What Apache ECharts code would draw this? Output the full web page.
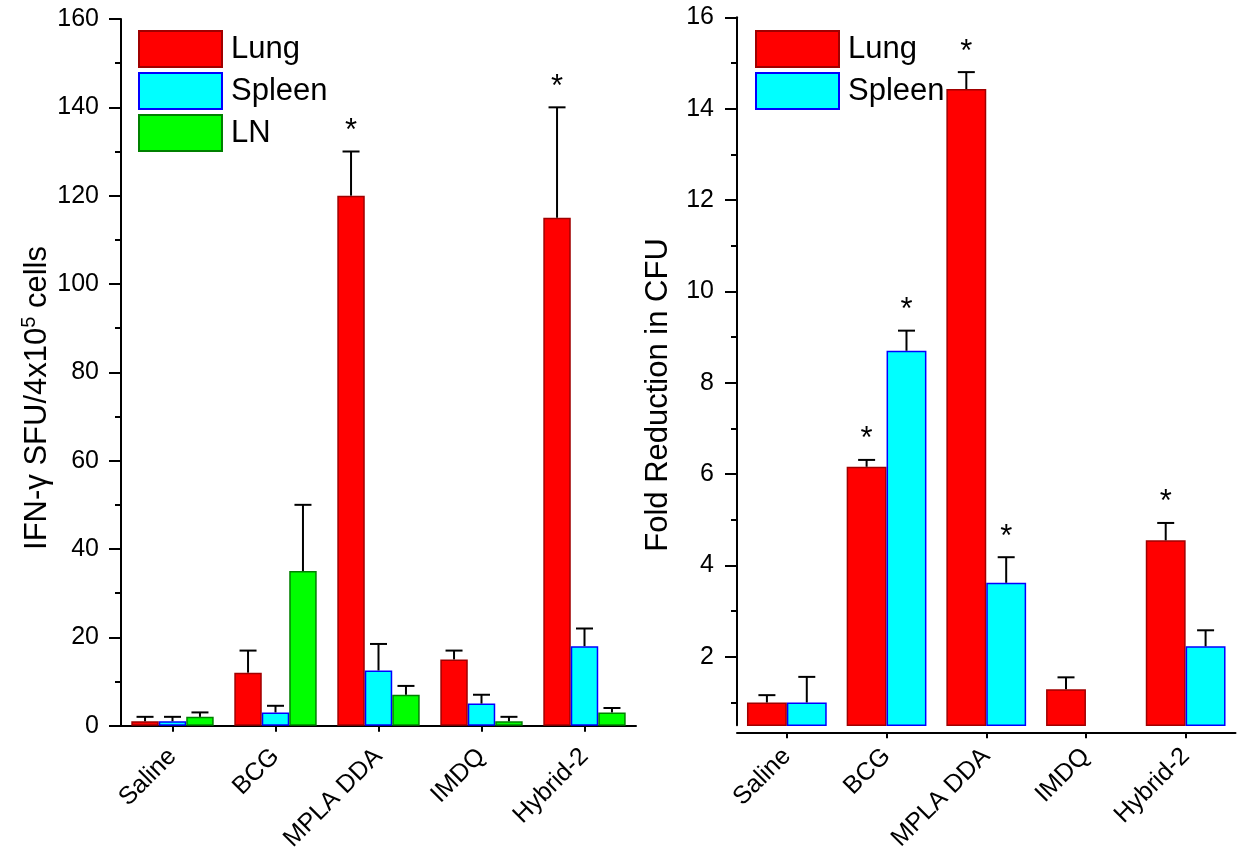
<!DOCTYPE html>
<html><head><meta charset="utf-8">
<script src="https://cdn.jsdelivr.net/npm/echarts@6/dist/echarts.min.js"></script>
<style>html,body{margin:0;padding:0;background:#fff}#c{width:1248px;height:854px}</style>
</head><body><div id="c"></div>
<script>
// ---------- DATA ----------
const categories = ['Saline', 'BCG', 'MPLA DDA', 'IMDQ', 'Hybrid-2'];

// Left panel: IFN-γ SFU / 4x10^5 cells
const ifnLung = [1, 12, 120, 15, 115];
const ifnLungSD = [1, 5, 10, 2, 25];
const ifnLungStar = [0, 0, 1, 0, 1];
const ifnSpleen = [1, 3, 12.5, 5, 18];
const ifnSpleenSD = [1, 1.5, 6, 2, 4];
const ifnSpleenStar = [0, 0, 0, 0, 0];
const ifnLN = [2, 35, 7, 1, 3];
const ifnLNSD = [1, 15, 2, 1, 1];
const ifnLNStar = [0, 0, 0, 0, 0];

// Right panel: fold reduction in CFU
const cfuLung = [1.0, 6.16, 14.43, 1.29, 4.55];
const cfuLungSD = [0.16, 0.15, 0.37, 0.26, 0.38];
const cfuLungStar = [0, 1, 1, 0, 1];
const cfuSpleen = [1.0, 8.7, 3.62, null, 2.23];
const cfuSpleenSD = [0.56, 0.44, 0.56, null, 0.35];
const cfuSpleenStar = [0, 1, 1, 0, 0];

const leftTicks = [0, 20, 40, 60, 80, 100, 120, 140, 160];
const rightTicks = [2, 4, 6, 8, 10, 12, 14, 16];
const rightMinorTicks = [1, 3, 5, 7, 9, 11, 13, 15];

// ---------- STYLE ----------
const FONT = '"Liberation Sans", Arial, sans-serif';
const COL = {
  Lung: ['#FF0000', '#A00000'],
  Spleen: ['#00FFFF', '#0000FF'],
  LN: ['#00FF00', '#008000']
};
const GAP = 0.2;

const chart = echarts.init(document.getElementById('c'));

function barSeries(name, values, xi, yi) {
  return {
    name: name, type: 'bar', xAxisIndex: xi, yAxisIndex: yi,
    data: values, barGap: '0%', barCategoryGap: (GAP * 100) + '%',
    itemStyle: { color: COL[name][0], borderColor: COL[name][1], borderWidth: 1.5 },
    emphasis: { disabled: true }, z: 2
  };
}

function errSeries(values, sd, stars, idx, n, xi, yi) {
  return {
    type: 'custom', xAxisIndex: xi, yAxisIndex: yi, silent: true, z: 5, clip: false,
    data: values.map((v, i) => [i, v == null ? NaN : v, v == null ? NaN : v + sd[i], stars[i]]),
    renderItem: function (params, api) {
      const cat = api.value(0), val = api.value(1), top = api.value(2), star = api.value(3);
      if (isNaN(val)) return null;
      const band = api.size([1, 0])[0];
      const groupW = band * (1 - GAP);
      const barW = groupW / n;
      const p0 = api.coord([cat, val]);
      const p1 = api.coord([cat, top]);
      const xc = p0[0] - groupW / 2 + barW * (idx + 0.5);
      const children = [
        { type: 'line', shape: { x1: xc, y1: p0[1], x2: xc, y2: p1[1] }, style: { stroke: '#000', lineWidth: 2 } },
        { type: 'line', shape: { x1: xc - 8.5, y1: p1[1], x2: xc + 8.5, y2: p1[1] }, style: { stroke: '#000', lineWidth: 2 } }
      ];
      if (star) {
        children.push({ type: 'text', x: xc, y: p1[1] - 20,
          style: { text: '*', fontSize: 31, fontFamily: FONT, fill: '#000', align: 'center', verticalAlign: 'middle' } });
      }
      return { type: 'group', children: children };
    }
  };
}

const axisLineStyle = { color: '#000', width: 2 };

const option = {
  backgroundColor: '#fff',
  animation: false,
  textStyle: { fontFamily: FONT },
  grid: [
    { left: 121, top: 19, width: 515, height: 707, containLabel: false },
    { left: 737, top: 17.3, width: 498.5, height: 708, containLabel: false }
  ],
  legend: [
    { orient: 'vertical', left: 138, top: 30, padding: 0, itemWidth: 83, itemHeight: 36, itemGap: 4,
      icon: 'rect', data: ['Lung', 'Spleen', 'LN'], selectedMode: false,
      textStyle: { fontSize: 31, color: '#000', fontFamily: FONT, padding: [0, 0, 0, 4] } },
    { orient: 'vertical', left: 755, top: 30, padding: 0, itemWidth: 83, itemHeight: 36, itemGap: 4,
      icon: 'rect', data: ['Lung', 'Spleen'], selectedMode: false,
      textStyle: { fontSize: 31, color: '#000', fontFamily: FONT, padding: [0, 0, 0, 4] } }
  ],
  xAxis: [0, 1].map(g => ({
    type: 'category', gridIndex: g, data: categories, offset: 7,
    axisLine: { show: true, lineStyle: axisLineStyle },
    axisTick: { show: true, alignWithLabel: true, length: 6, lineStyle: { color: '#000', width: 2 } },
    axisLabel: { rotate: 45, fontSize: 25, color: '#000', fontFamily: FONT, margin: 20, interval: 0 },
    splitLine: { show: false }
  })),
  yAxis: [
    { type: 'value', gridIndex: 0, position: 'left', min: leftTicks[0], max: leftTicks[leftTicks.length - 1], interval: 20,
      axisLine: { show: true, lineStyle: axisLineStyle },
      axisTick: { show: true, length: 12, lineStyle: { color: '#000', width: 2 } },
      minorTick: { show: true, splitNumber: 2, length: 6, lineStyle: { color: '#000', width: 2 } },
      axisLabel: { fontSize: 25, color: '#000', fontFamily: FONT, margin: 22 },
      splitLine: { show: false } },
    { type: 'value', gridIndex: 1, position: 'left', min: 0.5, max: 16,
      axisLine: { show: true, lineStyle: axisLineStyle },
      axisTick: { show: true, length: 12, customValues: rightTicks, lineStyle: { color: '#000', width: 2 } },
      axisLabel: { fontSize: 25, color: '#000', fontFamily: FONT, margin: 23, customValues: rightTicks },
      splitLine: { show: false } },
    { type: 'value', gridIndex: 1, position: 'left', offset: 0, min: 0.5, max: 16,
      axisLine: { show: false },
      axisTick: { show: true, length: 6, customValues: rightMinorTicks, lineStyle: { color: '#000', width: 2 } },
      axisLabel: { show: false },
      splitLine: { show: false } }
  ],
  graphic: [
    { type: 'text', x: 37, y: 398, rotation: Math.PI / 2,
      style: { text: '{a|IFN-γ SFU/4x10}{s|5}{a| cells}', align: 'center', verticalAlign: 'middle',
        rich: { a: { fontSize: 31, fontFamily: FONT, fill: '#000', color: '#000', lineHeight: 36 },
                s: { fontSize: 20, fontFamily: FONT, fill: '#000', color: '#000', verticalAlign: 'top', lineHeight: 36 } } } },
    { type: 'text', x: 658, y: 395, rotation: Math.PI / 2,
      style: { text: 'Fold Reduction in CFU', align: 'center', verticalAlign: 'middle',
        fontSize: 31, fontFamily: FONT, fill: '#000' } }
  ],
  series: [
    barSeries('Lung', ifnLung, 0, 0),
    barSeries('Spleen', ifnSpleen, 0, 0),
    barSeries('LN', ifnLN, 0, 0),
    errSeries(ifnLung, ifnLungSD, ifnLungStar, 0, 3, 0, 0),
    errSeries(ifnSpleen, ifnSpleenSD, ifnSpleenStar, 1, 3, 0, 0),
    errSeries(ifnLN, ifnLNSD, ifnLNStar, 2, 3, 0, 0),
    barSeries('Lung', cfuLung, 1, 1),
    barSeries('Spleen', cfuSpleen, 1, 1),
    errSeries(cfuLung, cfuLungSD, cfuLungStar, 0, 2, 1, 1),
    errSeries(cfuSpleen, cfuSpleenSD, cfuSpleenStar, 1, 2, 1, 1)
  ]
};
chart.setOption(option);
</script>
</body></html>
